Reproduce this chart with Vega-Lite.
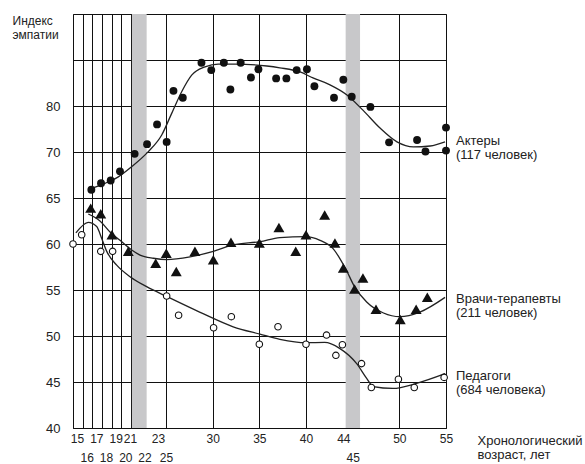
{
  "$schema": "https://vega.github.io/schema/vega-lite/v6.json",
  "width": 373,
  "height": 414,
  "autosize": {"type": "none"},
  "padding": {"left": 73, "top": 14, "right": 139, "bottom": 36},
  "background": "white",
  "config": {
    "font": "Liberation Sans",
    "view": {"stroke": "#111", "strokeWidth": 1}
  },
  "datasets": {
    "bands": [
      {"start": 21.07, "end": 22.16},
      {"start": 44.25, "end": 45.79}
    ],
    "points": [
      {"series": "Актеры", "age": 16.9, "value": 65.9},
      {"series": "Актеры", "age": 17.9, "value": 66.6},
      {"series": "Актеры", "age": 18.9, "value": 66.9},
      {"series": "Актеры", "age": 19.86, "value": 67.9},
      {"series": "Актеры", "age": 21.27, "value": 69.8},
      {"series": "Актеры", "age": 22.19, "value": 71.7},
      {"series": "Актеры", "age": 22.93, "value": 76.0},
      {"series": "Актеры", "age": 25.07, "value": 72.2},
      {"series": "Актеры", "age": 25.8, "value": 83.3},
      {"series": "Актеры", "age": 26.8, "value": 81.8},
      {"series": "Актеры", "age": 28.8, "value": 89.4},
      {"series": "Актеры", "age": 29.85, "value": 87.8},
      {"series": "Актеры", "age": 31.2, "value": 89.4},
      {"series": "Актеры", "age": 31.9, "value": 83.6},
      {"series": "Актеры", "age": 33.0, "value": 89.4},
      {"series": "Актеры", "age": 34.1, "value": 86.2},
      {"series": "Актеры", "age": 34.9, "value": 88.0},
      {"series": "Актеры", "age": 36.8, "value": 86.0},
      {"series": "Актеры", "age": 37.9, "value": 86.0},
      {"series": "Актеры", "age": 39.0, "value": 87.8},
      {"series": "Актеры", "age": 40.1, "value": 88.0},
      {"series": "Актеры", "age": 40.9, "value": 84.3},
      {"series": "Актеры", "age": 43.0, "value": 81.8},
      {"series": "Актеры", "age": 44.0, "value": 85.7},
      {"series": "Актеры", "age": 44.9, "value": 82.0},
      {"series": "Актеры", "age": 46.9, "value": 79.8},
      {"series": "Актеры", "age": 48.9, "value": 72.1},
      {"series": "Актеры", "age": 51.9, "value": 72.6},
      {"series": "Актеры", "age": 52.8, "value": 70.1},
      {"series": "Актеры", "age": 55.0, "value": 75.3},
      {"series": "Актеры", "age": 55.0, "value": 70.3},
      {"series": "Врачи", "age": 16.83, "value": 63.9},
      {"series": "Врачи", "age": 17.87, "value": 63.3},
      {"series": "Врачи", "age": 19.03, "value": 61.0},
      {"series": "Врачи", "age": 20.72, "value": 59.2},
      {"series": "Врачи", "age": 22.83, "value": 57.9},
      {"series": "Врачи", "age": 25.03, "value": 59.0},
      {"series": "Врачи", "age": 26.1, "value": 57.0},
      {"series": "Врачи", "age": 28.1, "value": 59.2},
      {"series": "Врачи", "age": 30.07, "value": 58.3},
      {"series": "Врачи", "age": 31.96, "value": 60.2},
      {"series": "Врачи", "age": 35.0, "value": 60.1},
      {"series": "Врачи", "age": 37.1, "value": 61.8},
      {"series": "Врачи", "age": 38.9, "value": 59.2},
      {"series": "Врачи", "age": 40.0, "value": 61.0},
      {"series": "Врачи", "age": 42.0, "value": 63.15},
      {"series": "Врачи", "age": 43.1, "value": 60.1},
      {"series": "Врачи", "age": 44.0, "value": 57.4},
      {"series": "Врачи", "age": 45.2, "value": 55.1},
      {"series": "Врачи", "age": 46.1, "value": 56.3},
      {"series": "Врачи", "age": 47.5, "value": 52.9},
      {"series": "Врачи", "age": 50.1, "value": 51.8},
      {"series": "Врачи", "age": 51.8, "value": 52.9},
      {"series": "Врачи", "age": 53.0, "value": 54.2},
      {"series": "Педагоги", "age": 15.0, "value": 60.0},
      {"series": "Педагоги", "age": 15.9, "value": 61.0},
      {"series": "Педагоги", "age": 17.87, "value": 59.2},
      {"series": "Педагоги", "age": 19.1, "value": 59.2},
      {"series": "Педагоги", "age": 25.07, "value": 54.35},
      {"series": "Педагоги", "age": 26.35, "value": 52.25},
      {"series": "Педагоги", "age": 30.1, "value": 50.9},
      {"series": "Педагоги", "age": 32.0, "value": 52.1},
      {"series": "Педагоги", "age": 35.0, "value": 49.1},
      {"series": "Педагоги", "age": 37.0, "value": 51.0},
      {"series": "Педагоги", "age": 40.0, "value": 49.1},
      {"series": "Педагоги", "age": 42.2, "value": 50.1},
      {"series": "Педагоги", "age": 43.2, "value": 47.9},
      {"series": "Педагоги", "age": 43.9, "value": 49.05},
      {"series": "Педагоги", "age": 45.95, "value": 47.0},
      {"series": "Педагоги", "age": 47.0, "value": 44.4},
      {"series": "Педагоги", "age": 49.9, "value": 45.3},
      {"series": "Педагоги", "age": 51.6, "value": 44.4},
      {"series": "Педагоги", "age": 54.8, "value": 45.5}
    ],
    "curves": [
      {"series": "Актеры", "age": 16.93, "value": 66.05},
      {"series": "Актеры", "age": 18.31, "value": 66.6},
      {"series": "Актеры", "age": 19.69, "value": 67.3},
      {"series": "Актеры", "age": 21.05, "value": 68.4},
      {"series": "Актеры", "age": 22.28, "value": 70.07},
      {"series": "Актеры", "age": 23.93, "value": 73.7},
      {"series": "Актеры", "age": 25.61, "value": 78.4},
      {"series": "Актеры", "age": 26.68, "value": 83.1},
      {"series": "Актеры", "age": 27.75, "value": 86.7},
      {"series": "Актеры", "age": 29.18, "value": 88.5},
      {"series": "Актеры", "age": 30.6, "value": 89.1},
      {"series": "Актеры", "age": 32.4, "value": 89.1},
      {"series": "Актеры", "age": 35.8, "value": 88.7},
      {"series": "Актеры", "age": 37.2, "value": 88.3},
      {"series": "Актеры", "age": 39.36, "value": 87.4},
      {"series": "Актеры", "age": 40.75, "value": 86.1},
      {"series": "Актеры", "age": 42.57, "value": 84.6},
      {"series": "Актеры", "age": 44.39, "value": 82.4},
      {"series": "Актеры", "age": 46.1, "value": 79.1},
      {"series": "Актеры", "age": 47.93, "value": 75.2},
      {"series": "Актеры", "age": 49.75, "value": 72.2},
      {"series": "Актеры", "age": 51.5, "value": 71.1},
      {"series": "Актеры", "age": 53.3, "value": 71.3},
      {"series": "Актеры", "age": 54.9, "value": 72.2},
      {"series": "Врачи", "age": 16.58, "value": 63.26},
      {"series": "Врачи", "age": 17.79, "value": 62.5},
      {"series": "Врачи", "age": 18.83, "value": 61.3},
      {"series": "Врачи", "age": 19.86, "value": 60.4},
      {"series": "Врачи", "age": 21.05, "value": 59.35},
      {"series": "Врачи", "age": 21.67, "value": 58.8},
      {"series": "Врачи", "age": 22.65, "value": 58.45},
      {"series": "Врачи", "age": 25.07, "value": 58.3},
      {"series": "Врачи", "age": 27.57, "value": 58.6},
      {"series": "Врачи", "age": 30.07, "value": 59.2},
      {"series": "Врачи", "age": 32.2, "value": 59.9},
      {"series": "Врачи", "age": 35.07, "value": 60.25},
      {"series": "Врачи", "age": 37.2, "value": 60.7},
      {"series": "Врачи", "age": 40.0, "value": 60.8},
      {"series": "Врачи", "age": 41.5, "value": 60.4},
      {"series": "Врачи", "age": 42.9, "value": 59.5},
      {"series": "Врачи", "age": 44.3, "value": 57.2},
      {"series": "Врачи", "age": 45.2, "value": 55.36},
      {"series": "Врачи", "age": 46.5, "value": 53.7},
      {"series": "Врачи", "age": 48.3, "value": 52.5},
      {"series": "Врачи", "age": 50.07, "value": 52.1},
      {"series": "Врачи", "age": 52.2, "value": 52.6},
      {"series": "Врачи", "age": 54.9, "value": 54.2},
      {"series": "Педагоги", "age": 15.3, "value": 61.2},
      {"series": "Педагоги", "age": 16.58, "value": 62.36},
      {"series": "Педагоги", "age": 17.45, "value": 61.9},
      {"series": "Педагоги", "age": 17.97, "value": 60.6},
      {"series": "Педагоги", "age": 18.49, "value": 59.2},
      {"series": "Педагоги", "age": 19.52, "value": 57.7},
      {"series": "Педагоги", "age": 20.9, "value": 56.45},
      {"series": "Педагоги", "age": 22.16, "value": 55.36},
      {"series": "Педагоги", "age": 25.07, "value": 54.3},
      {"series": "Педагоги", "age": 28.6, "value": 52.6},
      {"series": "Педагоги", "age": 32.2, "value": 51.0},
      {"series": "Педагоги", "age": 35.07, "value": 50.2},
      {"series": "Педагоги", "age": 37.2, "value": 49.64},
      {"series": "Педагоги", "age": 40.0, "value": 49.27},
      {"series": "Педагоги", "age": 42.0, "value": 49.3},
      {"series": "Педагоги", "age": 43.6, "value": 48.66},
      {"series": "Педагоги", "age": 45.43, "value": 47.0},
      {"series": "Педагоги", "age": 46.5, "value": 45.4},
      {"series": "Педагоги", "age": 47.2, "value": 44.5},
      {"series": "Педагоги", "age": 49.3, "value": 44.3},
      {"series": "Педагоги", "age": 51.85, "value": 44.85},
      {"series": "Педагоги", "age": 54.9, "value": 45.9}
    ],
    "labels": [
      {"text": "Актеры\n(117 человек)", "age": 55, "value": 71.5},
      {"text": "Врачи-терапевты\n(211 человек)", "age": 55, "value": 53.55},
      {"text": "Педагоги\n(684 человека)", "age": 55, "value": 45.2}
    ]
  },
  "layer": [
    {
      "data": {"name": "bands"},
      "mark": {"type": "rect", "color": "#c8c8ca"},
      "encoding": {
        "x": {
          "field": "start", "type": "quantitative",
          "scale": {"type": "linear", "domain": [15, 21, 23, 25, 55], "range": [0, 58, 85, 93, 373], "zero": false, "nice": false},
          "axis": {
            "orient": "top",
            "values": [15, 16, 17, 18, 19, 20, 21, 25, 30, 35, 40, 50, 55],
            "grid": true, "gridColor": "#111", "gridOpacity": 1, "gridWidth": 1,
            "labels": false, "ticks": false, "domain": false, "title": null
          }
        },
        "x2": {"field": "end"}
      }
    },
    {
      "data": {"name": "curves"},
      "mark": {"type": "line", "interpolate": "monotone", "color": "#222", "strokeWidth": 1.3},
      "encoding": {
        "x": {
          "field": "age", "type": "quantitative",
          "scale": {"type": "linear", "domain": [15, 21, 23, 25, 55], "range": [0, 58, 85, 93, 373], "zero": false, "nice": false},
          "axis": {
            "orient": "bottom",
            "values": [15, 16, 17, 18, 19, 20, 21, 22, 23, 25, 30, 35, 40, 44, 45, 50, 55],
            "format": "d",
            "grid": false, "ticks": false, "domain": false,
            "labelFontSize": 12, "labelColor": "#222",
            "labelOverlap": false, "labelFlush": false, "labelBound": false,
            "labelBaseline": "top",
            "labelPadding": {"condition": {"test": "indexof([16,18,20,22,25,45], datum.value) >= 0", "value": 24}, "value": 5},
            "labelOffset": {"condition": [{"test": "datum.value <= 20", "value": 4}, {"test": "datum.value == 21", "value": -1}], "value": 0},
            "title": ["Хронологический", "возраст, лет"],
            "titleFontSize": 13, "titleFontWeight": "normal", "titleColor": "#222",
            "titleAngle": 0, "titleAlign": "left", "titleBaseline": "alphabetic",
            "titleX": 404, "titleY": 16, "titleLineHeight": 14.5
          }
        },
        "y": {
          "field": "value", "type": "quantitative",
          "scale": {"type": "linear", "domain": [40, 65, 70, 100], "range": [414, 184, 138, 0], "zero": false, "nice": false},
          "axis": {
            "orient": "left",
            "values": [40, 45, 50, 55, 60, 65, 70, 80, 90],
            "labelExpr": "datum.value == 90 ? '' : datum.label",
            "grid": true, "gridColor": "#111", "gridOpacity": 1, "gridWidth": 1,
            "ticks": false, "domain": false,
            "labelPadding": 13, "labelFontSize": 13, "labelColor": "#222",
            "title": ["Индекс", "эмпатии"],
            "titleFontSize": 12, "titleFontWeight": "normal", "titleColor": "#222",
            "titleAngle": 0, "titleAlign": "left", "titleBaseline": "alphabetic",
            "titleX": -61, "titleY": 10, "titleLineHeight": 14
          }
        },
        "detail": {"field": "series", "type": "nominal"}
      }
    },
    {
      "data": {"name": "points"},
      "transform": [{"filter": "datum.series == 'Актеры'"}],
      "mark": {"type": "point", "shape": "circle", "filled": true, "color": "#111", "size": 62, "opacity": 1},
      "encoding": {
        "x": {"field": "age", "type": "quantitative", "axis": null},
        "y": {"field": "value", "type": "quantitative", "axis": null}
      }
    },
    {
      "data": {"name": "points"},
      "transform": [{"filter": "datum.series == 'Врачи'"}],
      "mark": {"type": "point", "shape": "triangle-up", "filled": true, "color": "#111", "size": 120, "opacity": 1},
      "encoding": {
        "x": {"field": "age", "type": "quantitative", "axis": null},
        "y": {"field": "value", "type": "quantitative", "axis": null}
      }
    },
    {
      "data": {"name": "points"},
      "transform": [{"filter": "datum.series == 'Педагоги'"}],
      "mark": {"type": "point", "shape": "circle", "filled": false, "fill": "white", "fillOpacity": 1, "stroke": "#111", "strokeWidth": 1.1, "size": 42, "opacity": 1},
      "encoding": {
        "x": {"field": "age", "type": "quantitative", "axis": null},
        "y": {"field": "value", "type": "quantitative", "axis": null}
      }
    },
    {
      "data": {"name": "labels"},
      "mark": {"type": "text", "align": "left", "baseline": "alphabetic", "dx": 10, "fontSize": 13, "lineHeight": 14, "lineBreak": "\n", "color": "#222"},
      "encoding": {
        "x": {"field": "age", "type": "quantitative", "axis": null},
        "y": {"field": "value", "type": "quantitative", "axis": null},
        "text": {"field": "text", "type": "nominal"}
      }
    }
  ],
  "resolve": {"axis": {"x": "independent", "y": "independent"}}
}
